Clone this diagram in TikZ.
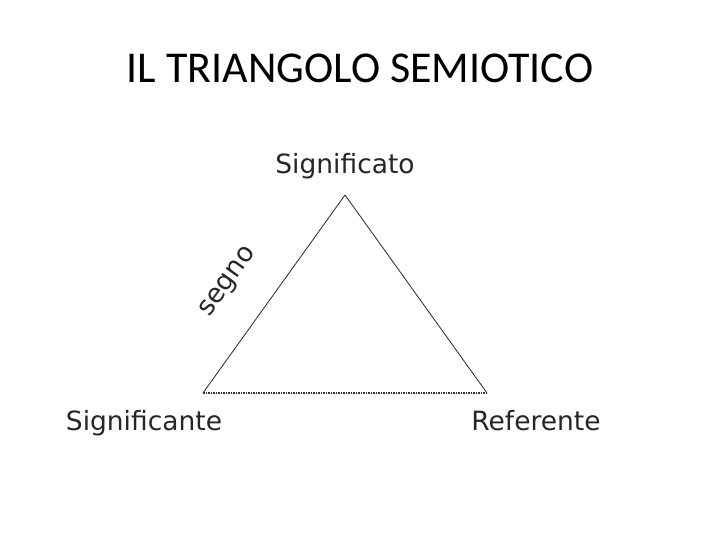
\documentclass[tikz,border=0pt]{standalone}
\usepackage{fontspec}
\setmainfont{Carlito}
\newfontfamily\verdfont{DejaVu Sans}
\usetikzlibrary{positioning}

\tikzset{
  vertice/.style={font=\verdfont\fontsize{26.5}{30}\selectfont, text=black!85, inner sep=0pt},
  lato/.style={line width=0.8pt, black!85},
}

\begin{document}
\begin{tikzpicture}[x=1pt,y=1pt]
  \useasboundingbox (0,0) rectangle (720,-540);
  % Titolo
  \node[font=\fontsize{44}{50}\selectfont, inner sep=0pt] (titolo) at (360,-68) {IL TRIANGOLO SEMIOTICO};

  % Vertici del triangolo
  \coordinate (alto) at (345,-195);
  \coordinate (sx) at (203,-393);
  \coordinate (dx) at (487,-393);

  % Etichette
  \node[vertice] (significato) at (345,-166) {Significato};
  \node[vertice, anchor=base] (significante) at (144,-430) {Significante};
  \node[vertice, anchor=base] (referente) at (536,-430) {Referente};

  % Lati
  \draw[lato] (sx) -- node[vertice, sloped, above=33pt, pos=0.43] (segno) {segno} (alto);
  \draw[lato] (alto) -- (dx);
  \draw[line width=1.6pt, black!80, dash pattern=on 1.6pt off 0.9pt] (sx) -- (dx);
\end{tikzpicture}
\end{document}
